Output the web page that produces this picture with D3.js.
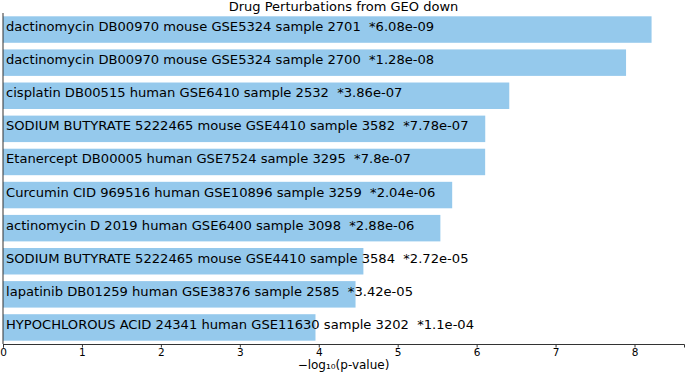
<!DOCTYPE html>
<html>
<head>
<meta charset="utf-8">
<script src="https://cdn.jsdelivr.net/npm/d3@7"></script>
<style>
  body { margin: 0; background: #fff; }
  text { font-family: "DejaVu Sans", sans-serif; }
  .axis text { font-size: 10.5px; fill: #000; }
  .axis path, .axis line { stroke: #333; }
</style>
</head>
<body>
<div id="chart"></div>
<script>
// terms, ordered top to bottom
const terms = [
  "dactinomycin DB00970 mouse GSE5324 sample 2701",
  "dactinomycin DB00970 mouse GSE5324 sample 2700",
  "cisplatin DB00515 human GSE6410 sample 2532",
  "SODIUM BUTYRATE 5222465 mouse GSE4410 sample 3582",
  "Etanercept DB00005 human GSE7524 sample 3295",
  "Curcumin CID 969516 human GSE10896 sample 3259",
  "actinomycin D 2019 human GSE6400 sample 3098",
  "SODIUM BUTYRATE 5222465 mouse GSE4410 sample 3584",
  "lapatinib DB01259 human GSE38376 sample 2585",
  "HYPOCHLOROUS ACID 24341 human GSE11630 sample 3202"
];
const pLabels = ["6.08e-09", "1.28e-08", "3.86e-07", "7.78e-07", "7.8e-07",
  "2.04e-06", "2.88e-06", "2.72e-05", "3.42e-05", "1.1e-04"];
const pValues = [6.08e-09, 1.28e-08, 3.86e-07, 7.78e-07, 7.8e-07,
  2.04e-06, 2.88e-06, 2.72e-05, 3.42e-05, 1.1e-04];
const xTicks = [0, 1, 2, 3, 4, 5, 6, 7, 8];

const data = terms.map((t, i) => ({term: t, label: pLabels[i], score: -Math.log10(pValues[i])}));

const W = 685, H = 373;
const margin = {top: 13, right: 1, bottom: 29, left: 3};
const width = W - margin.left - margin.right,
      height = H - margin.top - margin.bottom;

const svg = d3.select("#chart").append("svg")
    .attr("width", W)
    .attr("height", H)
  .append("g")
    .attr("transform", `translate(${margin.left},${margin.top})`);

const xMax = d3.max(data, d => d.score) * 1.05;
const x = d3.scaleLinear().domain([0, xMax]).range([0, width]);
const y = d3.scaleBand().domain(terms).range([0, height])
    .paddingInner(0.2).paddingOuter(0.1);

// bars
svg.selectAll("rect.bar")
  .data(data)
  .join("rect")
    .attr("class", "bar")
    .attr("x", x(0))
    .attr("y", d => y(d.term))
    .attr("width", d => x(d.score) - x(0))
    .attr("height", y.bandwidth())
    .attr("fill", "#95c9ec");

// labels
svg.selectAll("text.lbl")
  .data(data)
  .join("text")
    .attr("class", "lbl")
    .attr("x", 3)
    .attr("y", d => y(d.term) + y.bandwidth() / 2 + 1.5)
    .style("font-size", "13.1px")
    .style("white-space", "pre")
    .attr("fill", "#000")
    .text(d => d.term + "  *" + d.label);

// x axis
svg.append("g")
    .attr("class", "axis")
    .attr("transform", `translate(0,${height})`)
    .call(d3.axisBottom(x).tickValues(xTicks).tickFormat(d3.format("d"))
      .tickSizeOuter(0).tickSize(3.5).tickPadding(1.5));

// left spine
svg.append("line")
    .attr("x1", 0).attr("x2", 0)
    .attr("y1", 0).attr("y2", height)
    .attr("stroke", "#333");

// title
svg.append("text")
    .attr("x", width / 2)
    .attr("y", -2)
    .attr("text-anchor", "middle")
    .style("font-size", "13px")
    .text("Drug Perturbations from GEO down");

// x label
svg.append("text")
    .attr("x", width / 2)
    .attr("y", height + 24.5)
    .attr("text-anchor", "middle")
    .style("font-size", "12px")
    .text("\u2212log\u2081\u2080(p-value)");
</script>
</body>
</html>
